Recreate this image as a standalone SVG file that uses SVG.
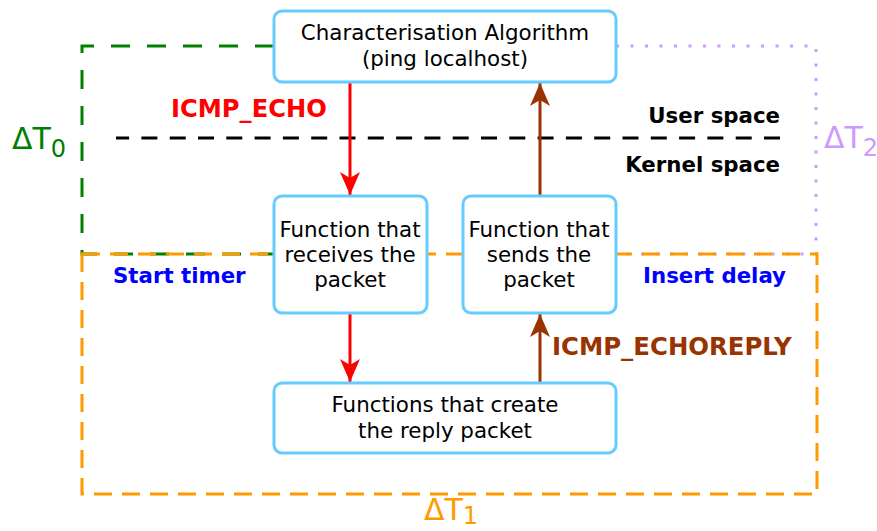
<svg xmlns="http://www.w3.org/2000/svg" width="877" height="531" viewBox="0 0 877 531">
<style>
.bg{fill:#ffffff}
.node{fill:#ffffff;stroke:#66ccff;stroke-width:3}
.nt{font-family:"DejaVu Sans",sans-serif;font-size:21.4px;fill:#000000;text-anchor:middle}
.bold{font-family:"DejaVu Sans",sans-serif;font-weight:bold}
.delta{font-family:"DejaVu Sans",sans-serif;font-size:30px}
.sub{font-size:24px}
.red{stroke:#ff0000;stroke-width:3;fill:none}
.brown{stroke:#993300;stroke-width:3;fill:none}
</style>
<defs>
<marker id="ahRed" markerUnits="userSpaceOnUse" markerWidth="24" markerHeight="22" refX="23" refY="10" orient="auto">
<path d="M0,0 L23,10 L0,20 L6,10 Z" fill="#ff0000"/>
</marker>
<marker id="ahBrown" markerUnits="userSpaceOnUse" markerWidth="24" markerHeight="22" refX="23" refY="10" orient="auto">
<path d="M0,0 L23,10 L0,20 L6,10 Z" fill="#993300"/>
</marker>
</defs>
<rect class="bg" x="0" y="0" width="877" height="531"/>

<g id="regions">
<path d="M274,46 L82,46 L82,254 L274,254" fill="none" stroke="#008000" stroke-width="3" stroke-dasharray="19,17"/>
<path d="M616,46 L816,46 L816,254 L616,254" fill="none" stroke="#cc99ff" stroke-width="3" stroke-dasharray="3,11.5"/>
<rect x="82" y="254" width="735" height="240" fill="none" stroke="#ff9900" stroke-width="3" stroke-dasharray="18,10"/>
<line x1="780" y1="138" x2="116" y2="138" stroke="#000000" stroke-width="3" stroke-dasharray="16,12.3"/>
</g>

<g id="labels">
<text class="delta" x="12" y="149" fill="#008000">ΔT<tspan class="sub" dy="8">0</tspan></text>
<text class="delta" x="824" y="148" fill="#cc99ff">ΔT<tspan class="sub" dy="8">2</tspan></text>
<text class="delta" x="424" y="520" fill="#ff9900">ΔT<tspan class="sub" dy="4">1</tspan></text>
<text class="bold" x="780" y="123" font-size="21.3" fill="#000000" text-anchor="end">User space</text>
<text class="bold" x="780" y="172" font-size="21.3" fill="#000000" text-anchor="end">Kernel space</text>
<text class="bold" x="113" y="283" font-size="21.3" fill="#0000ff">Start timer</text>
<text class="bold" x="786" y="283" font-size="21.3" fill="#0000ff" text-anchor="end">Insert delay</text>
<text class="bold" x="171" y="117" font-size="24.2" fill="#ff0000">ICMP_ECHO</text>
<text class="bold" x="552" y="355" font-size="24.4" fill="#993300">ICMP_ECHOREPLY</text>
</g>

<g id="connectors">
<line class="red" x1="350" y1="82" x2="350" y2="195" marker-end="url(#ahRed)"/>
<line class="red" x1="350" y1="313" x2="350" y2="382" marker-end="url(#ahRed)"/>
<line class="brown" x1="540" y1="383" x2="540" y2="314" marker-end="url(#ahBrown)"/>
<line class="brown" x1="540" y1="196" x2="540" y2="83" marker-end="url(#ahBrown)"/>
</g>

<g id="node-algorithm">
<rect class="node" x="274" y="11" width="342" height="71" rx="8"/>
<text class="nt" x="445" y="40">Characterisation Algorithm</text>
<text class="nt" x="445" y="66">(ping localhost)</text>
</g>
<g id="node-receive">
<rect class="node" x="274" y="196" width="153" height="117" rx="8"/>
<text class="nt" x="350" y="237">Function that</text>
<text class="nt" x="350" y="262">receives the</text>
<text class="nt" x="350" y="287">packet</text>
</g>
<g id="node-send">
<rect class="node" x="463" y="196" width="153" height="117" rx="8"/>
<text class="nt" x="539" y="237">Function that</text>
<text class="nt" x="539" y="262">sends the</text>
<text class="nt" x="539" y="287">packet</text>
</g>
<g id="node-create">
<rect class="node" x="274" y="383" width="342" height="70" rx="8"/>
<text class="nt" x="445" y="412">Functions that create</text>
<text class="nt" x="445" y="438">the reply packet</text>
</g>
</svg>
